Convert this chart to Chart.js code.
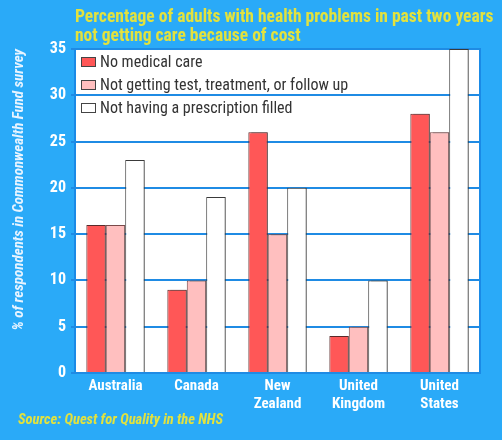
<!DOCTYPE html>
<html>
<head>
<meta charset="utf-8">
<script src="https://cdn.jsdelivr.net/npm/chart.js@4.4.0/dist/chart.umd.min.js"></script>
<style>
  html, body { margin: 0; padding: 0; background: #2aaaf8; }
  #wrap { width: 502px; height: 440px; }
</style>
</head>
<body>
<div id="wrap"><canvas id="chart" width="502" height="440"></canvas></div>
<script>
const countries = [['Australia'], ['Canada'], ['New', 'Zealand'], ['United', 'Kingdom'], ['United', 'States']];
const noMedicalCare = [16, 9, 26, 4, 28];
const noTestTreatment = [16, 10, 15, 5, 26];
const noPrescription = [23, 19, 20, 10, 35];
const titleLines = ['Percentage of adults with health problems in past two years', 'not getting care because of cost'];
const sourceText = 'Source: Quest for Quality in the NHS';

const FONT = "'Roboto Condensed', 'Liberation Sans Narrow', sans-serif";
const YELLOW = '#e2e23e';

const decor = {
  id: 'decor',
  beforeDraw(chart) {
    const { ctx, chartArea: a } = chart;
    ctx.save();
    ctx.fillStyle = '#ffffff';
    ctx.fillRect(a.left, a.top, a.right - a.left, a.bottom - a.top);
    ctx.strokeStyle = '#1a8ae6';
    ctx.lineWidth = 2;
    ctx.strokeRect(a.left, a.top, a.right - a.left, a.bottom - a.top);
    ctx.restore();
  },
  beforeDatasetsDraw(chart) {
    const ctx = chart.ctx;
    ctx.save();
    ctx.shadowColor = 'rgba(60,60,60,0.5)';
    ctx.shadowOffsetX = 3;
    ctx.shadowOffsetY = 0;
    ctx.shadowBlur = 0;
  },
  afterDatasetsDraw(chart) {
    chart.ctx.restore();
  },
  afterDraw(chart) {
    const { ctx, chartArea: a } = chart;
    ctx.save();
    // title
    ctx.fillStyle = YELLOW;
    ctx.font = 'bold 17.5px ' + FONT;
    ctx.textBaseline = 'alphabetic';
    ctx.textAlign = 'left';
    titleLines.forEach((t, i) => ctx.fillText(t, a.left, 22 + i * 19));
    // source
    ctx.font = 'italic bold 14.5px ' + FONT;
    ctx.fillText(sourceText, 18, 424);
    // legend
    ctx.font = '16px ' + FONT;
    chart.data.datasets.forEach((ds, i) => {
      const y = a.top + 13 + i * 23;
      ctx.fillStyle = ds.backgroundColor;
      ctx.fillRect(a.left + 6, y - 5, 15, 10);
      ctx.strokeStyle = '#444';
      ctx.lineWidth = 1;
      ctx.strokeRect(a.left + 6.5, y - 4.5, 14, 9);
      ctx.fillStyle = '#333';
      ctx.textBaseline = 'middle';
      ctx.fillText(ds.label, a.left + 25, y + 1);
    });
    ctx.restore();
  }
};

new Chart(document.getElementById('chart'), {
  type: 'bar',
  data: {
    labels: countries,
    datasets: [
      { label: 'No medical care', data: noMedicalCare, backgroundColor: '#ff5757', borderColor: '#5a2a2a' },
      { label: 'Not getting test, treatment, or follow up', data: noTestTreatment, backgroundColor: '#ffbfbf', borderColor: '#7a4a4a' },
      { label: 'Not having a prescription filled', data: noPrescription, backgroundColor: '#ffffff', borderColor: '#3a3a3a' }
    ]
  },
  options: {
    responsive: false,
    animation: false,
    layout: { padding: { top: 49, right: 22, left: 0, bottom: 0 } },
    datasets: { bar: { categoryPercentage: 0.72, barPercentage: 1.0, borderWidth: 1 } },
    plugins: { legend: { display: false }, tooltip: { enabled: false } },
    scales: {
      x: {
        grid: { display: false, drawTicks: false, tickLength: 0 },
        border: { display: false },
        ticks: { color: '#ffffff', font: { family: FONT, size: 15, weight: 'bold', lineHeight: 1.2 }, padding: 4, maxRotation: 0, autoSkip: false },
        afterFit(s) { s.height = 67; }
      },
      y: {
        min: 0, max: 35,
        ticks: { stepSize: 5, color: '#ffffff', font: { family: FONT, size: 16, weight: 'bold' }, padding: 5 },
        grid: { color: '#1f8be4', lineWidth: 2, tickLength: 4 },
        border: { display: false },
        title: {
          display: true, align: 'end', text: '% of respondents in Commonwealth Fund survey',
          color: '#e8f4ff', font: { family: FONT, size: 15, weight: 'bold', style: 'italic' }, padding: { top: 10, bottom: 0 }
        },
        afterFit(s) { s.width = 75; }
      }
    }
  },
  plugins: [decor]
});
</script>
</body>
</html>
